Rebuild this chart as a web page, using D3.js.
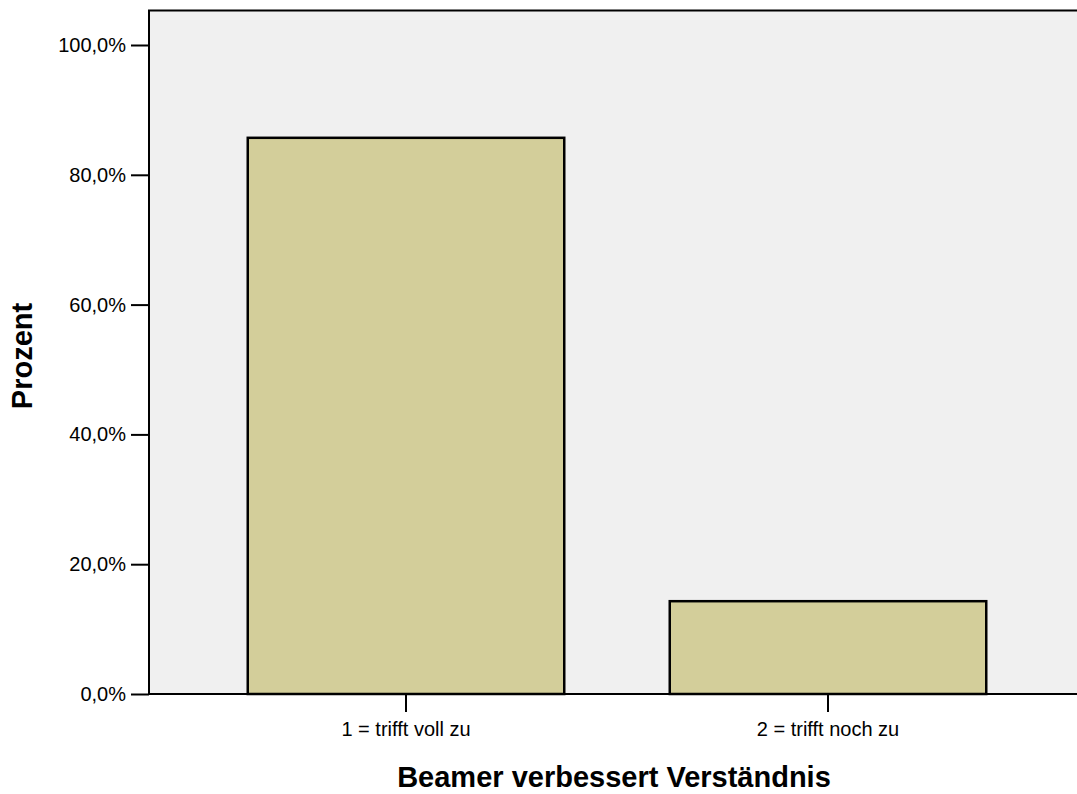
<!DOCTYPE html>
<html><head><meta charset="utf-8">
<script src="https://cdn.jsdelivr.net/npm/d3@7"></script>
<style>body{margin:0;background:#fff;}svg{display:block;font-family:"Liberation Sans",Arial,sans-serif;}</style>
</head><body>
<svg id="c" width="1077" height="794"></svg>
<script>
const categories = ["1 = trifft voll zu", "2 = trifft noch zu"];
const values = [85.7, 14.3];
const yTicks = [0, 20, 40, 60, 80, 100];
const yLabel = "Prozent";
const xLabel = "Beamer verbessert Verständnis";

const svg = d3.select("#c");
const L = 149, T = 10.5, R = 1090, B = 694;
const y = d3.scaleLinear().domain([0, 100]).range([B, 45]);
const x = d3.scaleBand().domain(categories).range([195, 1039]).paddingInner(0.25).paddingOuter(0.125);

svg.append("rect").attr("x", L).attr("y", T).attr("width", R - L).attr("height", B - T)
  .attr("fill", "#f0f0f0").attr("stroke", "#000").attr("stroke-width", 2);

svg.selectAll("rect.bar").data(values).join("rect").attr("class", "bar")
  .attr("x", (d, i) => x(categories[i])).attr("width", x.bandwidth())
  .attr("y", d => y(d)).attr("height", d => B - y(d))
  .attr("fill", "#d3ce9a").attr("stroke", "#000").attr("stroke-width", 2.5);

const fmt = d => d.toFixed(1).replace(".", ",") + "%";
const ya = svg.append("g").attr("transform", `translate(${L},0)`)
  .call(d3.axisLeft(y).tickValues(yTicks).tickFormat(fmt).tickSize(18).tickPadding(5));
ya.select(".domain").remove();
ya.selectAll("line").attr("stroke", "#000").attr("stroke-width", 2);
ya.selectAll("text").attr("font-size", 20).attr("fill", "#000").attr("font-family", "Liberation Sans, Arial, sans-serif");

const xa = svg.append("g").attr("transform", `translate(0,${B})`)
  .call(d3.axisBottom(x).tickSize(18).tickPadding(10));
xa.select(".domain").remove();
xa.selectAll("line").attr("stroke", "#000").attr("stroke-width", 2);
xa.selectAll("text").attr("font-size", 20).attr("fill", "#000").attr("font-family", "Liberation Sans, Arial, sans-serif");

svg.append("text").attr("transform", "translate(32,356) rotate(-90)").attr("text-anchor", "middle")
  .attr("font-size", 29).attr("font-weight", "bold").text(yLabel);
svg.append("text").attr("x", 614).attr("y", 787).attr("text-anchor", "middle")
  .attr("font-size", 29).attr("font-weight", "bold").text(xLabel);
</script>
</body></html>
